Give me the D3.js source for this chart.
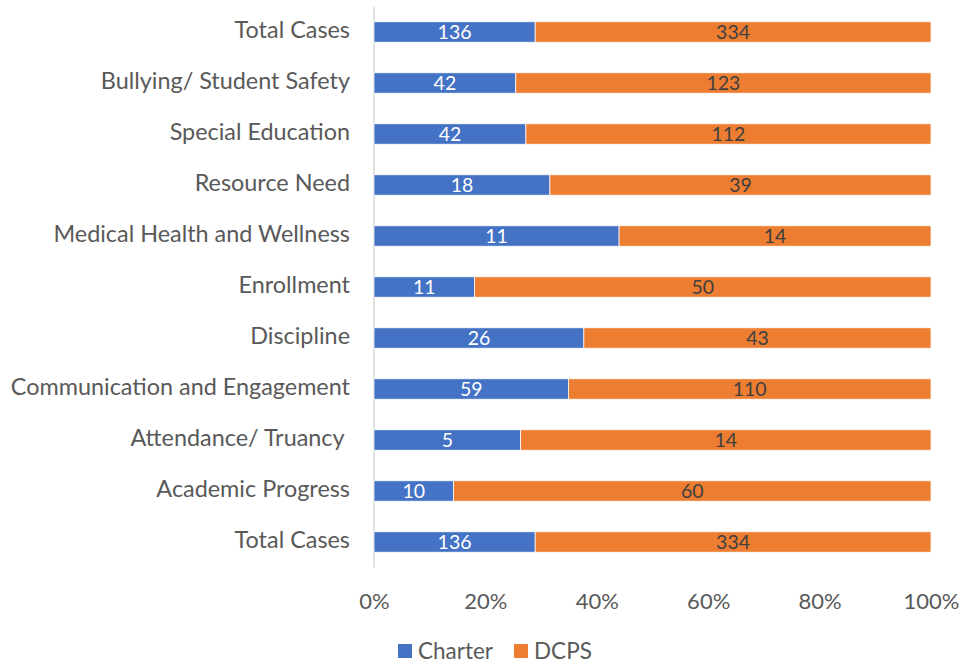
<!DOCTYPE html>
<html>
<head>
<meta charset="utf-8">
<script src="https://cdn.jsdelivr.net/npm/d3@7"></script>
<style>
  body { margin: 0; background: #fff; }
  text { font-family: Lato, "Open Sans", sans-serif; fill: #595959; }
</style>
</head>
<body>
<div id="main"></div>
<script>
'use strict'

// categories from top to bottom
let categories = ["Total Cases", "Bullying/ Student Safety", "Special Education", "Resource Need",
  "Medical Health and Wellness", "Enrollment", "Discipline", "Communication and Engagement",
  "Attendance/ Truancy ", "Academic Progress", "Total Cases"];
let charter = [136, 42, 42, 18, 11, 11, 26, 59, 5, 10, 136];
let dcps = [334, 123, 112, 39, 14, 50, 43, 110, 14, 60, 334];
let seriesNames = ["Charter", "DCPS"];
let seriesColors = ["#4472C4", "#ED7D31"];
let tickValues = [0, 0.2, 0.4, 0.6, 0.8, 1];

function drawChart(){
  let svgWidth = 960;
  let svgHeight = 664;
  let left = 374, right = 931, top = 6.5, bottom = 567.5;

  let svg = d3.select('#main')
    .append('svg')
    .attr('width', svgWidth)
    .attr('height', svgHeight);

  let rows = categories.map((c, i) => ({
    key: i, name: c, charter: charter[i], dcps: dcps[i],
    total: charter[i] + dcps[i]
  }));

  let xScale = d3.scaleLinear().domain([0, 1]).range([left, right]);
  let yScale = d3.scaleBand()
    .domain(rows.map(d => d.key))
    .range([top, bottom])
    .paddingInner(0.6)
    .paddingOuter(0.3);

  // stacked shares
  let stack = d3.stack().keys(["charter", "dcps"])
    .value((d, k) => d[k] / d.total);
  let layers = stack(rows);

  // x axis labels only
  let xAxis = d3.axisBottom(xScale)
    .tickValues(tickValues)
    .tickFormat(d3.format(".0%"))
    .tickSize(0)
    .tickPadding(0);
  let gx = svg.append("g")
    .attr("transform", "translate(0," + 593 + ")")
    .call(xAxis);
  gx.select(".domain").remove();
  gx.selectAll("text")
    .attr("dy", "0.71em")
    .style("font-size", "22px")
    .attr("fill", "#595959");

  // y axis with category names
  let yAxis = d3.axisLeft(yScale)
    .tickFormat(i => categories[i])
    .tickSize(0)
    .tickPadding(24);
  let gy = svg.append("g")
    .attr("transform", "translate(" + left + ",0)")
    .call(yAxis);
  gy.select(".domain").remove();
  gy.selectAll("text")
    .attr("dy", "0.26em")
    .style("font-size", "23.4px")
    .style("white-space", "pre")
    .attr("fill", "#595959");

  // vertical axis line
  svg.append("line")
    .attr("x1", left).attr("x2", left)
    .attr("y1", top).attr("y2", bottom)
    .attr("stroke", "#D9D9D9")
    .attr("stroke-width", 1.5);

  // bars
  let groups = svg.selectAll("g.layer")
    .data(layers)
    .enter()
    .append("g")
    .attr("class", "layer")
    .attr("fill", (d, i) => seriesColors[i]);

  groups.selectAll("rect")
    .data(d => d)
    .enter()
    .append("rect")
    .attr("x", d => xScale(d[0]))
    .attr("width", d => xScale(d[1]) - xScale(d[0]))
    .attr("y", d => yScale(d.data.key))
    .attr("height", yScale.bandwidth())
    .attr("stroke", "#fff")
    .attr("stroke-width", 0.75);

  // value labels
  groups.each(function(layer, li){
    d3.select(this).selectAll("text")
      .data(layer)
      .enter()
      .append("text")
      .attr("x", d => (xScale(d[0]) + xScale(d[1])) / 2)
      .attr("y", d => yScale(d.data.key) + yScale.bandwidth() / 2)
      .attr("dy", "0.36em")
      .attr("text-anchor", "middle")
      .style("font-size", "19.5px")
      .style("fill", li === 0 ? "#fff" : "#404040")
      .text(d => d.data[layer.key]);
  });

  // legend
  let legend = svg.append("g").attr("transform", "translate(0,651)");
  let legendX = [398, 514];
  seriesNames.forEach((name, i) => {
    legend.append("rect")
      .attr("x", legendX[i])
      .attr("y", -7)
      .attr("width", 14)
      .attr("height", 14)
      .attr("fill", seriesColors[i]);
    legend.append("text")
      .attr("x", legendX[i] + 20)
      .attr("y", 0)
      .attr("dy", "0.35em")
      .style("font-size", "22.5px")
      .text(name);
  });
}

drawChart();
</script>
</body>
</html>
